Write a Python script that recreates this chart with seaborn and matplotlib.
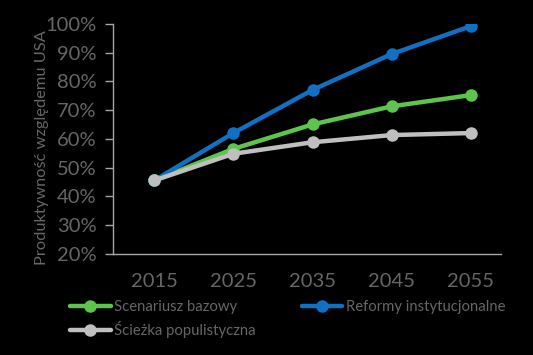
import numpy as np
import pandas as pd
import matplotlib
matplotlib.use("Agg")
import matplotlib.pyplot as plt
import seaborn as sns

years = ["2015", "2025", "2035", "2045", "2055"]
bazowy = [45.5, 56.5, 65.0, 71.3, 75.2]
reformy = [45.5, 62.0, 77.0, 89.5, 99.2]
populistyczna = [45.5, 54.8, 58.8, 61.3, 62.0]

series = ["Scenariusz bazowy", "Reformy instytucjonalne", "Ścieżka populistyczna"]
colors = ["#5DC54B", "#1070C4", "#BFBFBF"]

df = pd.DataFrame({
    "rok": years * 3,
    "wartosc": bazowy + reformy + populistyczna,
    "scenariusz": [series[0]] * 5 + [series[1]] * 5 + [series[2]] * 5,
})

sns.set_style("dark")
plt.rcParams["font.family"] = ["Lato", "DejaVu Sans"]
text_col = "#666666"

fig, ax = plt.subplots(figsize=(5.33, 3.55), dpi=100)
fig.patch.set_facecolor("black")
ax.set_facecolor("black")

sns.lineplot(data=df, x="rok", y="wartosc", hue="scenariusz", hue_order=series,
             palette=colors, marker="o", markersize=9, markeredgewidth=0,
             linewidth=3.2, sort=False, ax=ax)

ax.set_xlim(-0.52, 4.38)
ax.set_ylim(20, 100)
ax.set_yticks(range(20, 101, 10))
ax.set_yticklabels([f"{v}%" for v in range(20, 101, 10)])
ax.grid(False)
ax.set_xlabel("")
ax.set_ylabel("Produktywność względemu USA", color=text_col, fontsize=11.8)
ax.yaxis.set_label_coords(-0.165, 0.46)
ax.tick_params(axis="y", colors=text_col, labelsize=14.5, length=6, width=1, direction="out", left=True, pad=6)
ax.tick_params(axis="x", colors=text_col, labelsize=14.5, length=0, pad=14)
ax.tick_params(axis="y", color="#A6A6A6")
for s in ["top", "right"]:
    ax.spines[s].set_visible(False)
for s in ["left", "bottom"]:
    ax.spines[s].set_color("#A6A6A6")
    ax.spines[s].set_linewidth(1)

# legend filled column-wise: put the populist path second so it lands under "bazowy"
handles, labels = ax.get_legend_handles_labels()
order = [0, 2, 1]
ax.legend([handles[i] for i in order], [labels[i] for i in order],
          loc="upper left", bbox_to_anchor=(-0.125, -0.175), ncol=2, frameon=False,
          fontsize=10.7, labelcolor=text_col,
          handlelength=2.7, handletextpad=0.25,
          columnspacing=3.1, borderaxespad=0, labelspacing=0.5)

fig.subplots_adjust(left=0.212, right=0.94, top=0.933, bottom=0.285)
fig.savefig("out.png", dpi=100, facecolor="black")
